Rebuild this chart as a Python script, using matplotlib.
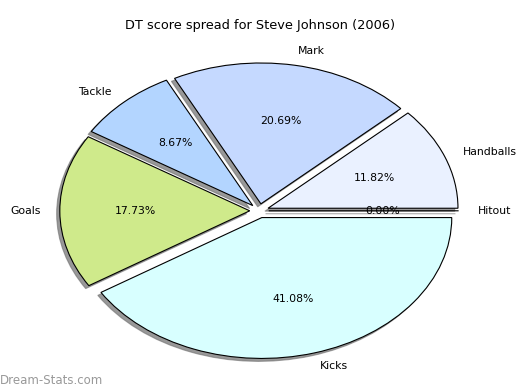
import matplotlib
matplotlib.use("Agg")
import matplotlib.pyplot as plt

# DT score spread, counter-clockwise from 0 degrees
labels = ["Hitout", "Handballs", "Mark", "Tackle", "Goals", "Kicks"]
values = [0.0, 11.82, 20.69, 8.67, 17.73, 41.08]
colors = ["#e0e8ff", "#eaf1ff", "#c5d9ff", "#b3d5ff", "#cfea8b", "#d8ffff"]
explode = [0.05] * len(values)

fig = plt.figure(figsize=(5.2, 3.9), dpi=100)
ax = fig.add_axes([0.042, 0.008, 0.913, 0.903])

wedges, texts, autotexts = ax.pie(
    values,
    labels=labels,
    colors=colors,
    explode=explode,
    autopct="%.2f%%",
    shadow={"ox": -0.012, "oy": -0.015, "facecolor": "#444444",
            "edgecolor": "#666666", "alpha": 0.55},
    startangle=0,
    wedgeprops={"edgecolor": "black", "linewidth": 0.8},
    textprops={"fontsize": 7.8},
)
ax.set_aspect("auto")
ax.set_xlim(-1.25, 1.25)
ax.set_ylim(-1.25, 1.25)

fig.text(0.5, 0.935, "DT score spread for Steve Johnson (2006)",
         ha="center", va="center", fontsize=9.3)
fig.text(0.0, 0.025, "Dream-Stats.com", ha="left", va="center",
         fontsize=8.5, color="#999999")

fig.savefig("out.png", dpi=100)
